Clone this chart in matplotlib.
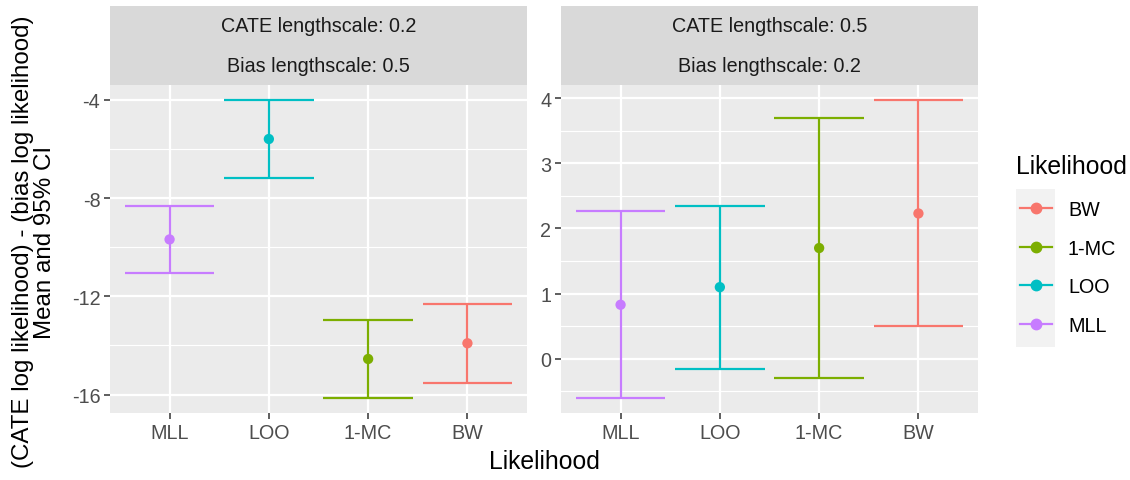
import numpy as np
import matplotlib
matplotlib.use("Agg")
import matplotlib.pyplot as plt
from matplotlib.lines import Line2D
from matplotlib.patches import Rectangle

plt.rcParams['font.family'] = ['Liberation Sans', 'DejaVu Sans']

# data
likelihoods = ["MLL", "LOO", "1-MC", "BW"]
colors = ["#C77CFF", "#00BFC4", "#7CAE00", "#F8766D"]

left_mean = [-9.68, -5.59, -14.55, -13.91]
left_lo = [-11.06, -7.16, -16.15, -15.51]
left_hi = [-8.31, -3.99, -12.95, -12.30]

right_mean = [0.83, 1.10, 1.70, 2.23]
right_lo = [-0.60, -0.15, -0.29, 0.50]
right_hi = [2.27, 2.35, 3.70, 3.97]

cate_ls = ["CATE lengthscale: 0.2", "CATE lengthscale: 0.5"]
bias_ls = ["Bias lengthscale: 0.5", "Bias lengthscale: 0.2"]

W, H = 1130, 481
fig = plt.figure(figsize=(W / 100, H / 100), dpi=100)

def fx(px):
    return px / W

def fy(py):
    return 1 - py / H

panel_top, panel_bot = 86, 414
strip_mid, strip_top = 47, 7
panels = [
    (110, 527, left_mean, left_lo, left_hi, (-16.75, -3.39),
     [-16, -12, -8, -4], [-14, -10, -6]),
    (561, 978, right_mean, right_lo, right_hi, (-0.83, 4.20),
     [0, 1, 2, 3, 4], [-0.5, 0.5, 1.5, 2.5, 3.5]),
]

tick_fs = 14.2
title_fs = 17.8
for i, (x0, x1, mean, lo, hi, ylim, major, minor) in enumerate(panels):
    ax = fig.add_axes([fx(x0), fy(panel_bot), fx(x1 - x0), (panel_bot - panel_top) / H])
    ax.set_facecolor("#EBEBEB")
    for s in ax.spines.values():
        s.set_visible(False)
    xs = np.arange(1, len(likelihoods) + 1)
    for y in minor:
        ax.axhline(y, color="white", lw=0.8, zorder=0)
    for y in major:
        ax.axhline(y, color="white", lw=1.6, zorder=0)
    for x in xs:
        ax.axvline(x, color="white", lw=1.6, zorder=0)
    ax.vlines(xs, lo, hi, colors=colors, lw=1.6, zorder=2)
    ax.hlines(lo, xs - 0.45, xs + 0.45, colors=colors, lw=1.6, zorder=2)
    ax.hlines(hi, xs - 0.45, xs + 0.45, colors=colors, lw=1.6, zorder=2)
    ax.scatter(xs, mean, c=colors, s=55, zorder=3, linewidths=0)
    ax.set_xlim(0.4, 4.6)
    ax.set_ylim(*ylim)
    ax.set_xticks(xs)
    ax.set_xticklabels(likelihoods)
    ax.set_yticks(major)
    ax.set_yticklabels([str(v) for v in major])
    ax.tick_params(axis="both", colors="#333333", labelcolor="#4D4D4D",
                   labelsize=tick_fs, length=4, width=1.1, pad=3)

    # facet strips
    for (ytop, ybot, label) in [(strip_mid, panel_top, bias_ls[i]), (strip_top, strip_mid, cate_ls[i])]:
        sax = fig.add_axes([fx(x0), fy(ybot), fx(x1 - x0), (ybot - ytop) / H])
        sax.set_facecolor("#D9D9D9")
        sax.set_xticks([])
        sax.set_yticks([])
        for s in sax.spines.values():
            s.set_visible(False)
        sax.text(0.5, 0.5, label, ha="center", va="center", fontsize=tick_fs,
                 color="#1A1A1A", transform=sax.transAxes)

# axis titles
fig.text(fx(544), fy(462), "Likelihood", ha="center", va="center", fontsize=title_fs)
fig.text(fx(34), fy(242), "(CATE log likelihood) - (bias log likelihood)\nMean and 95% CI",
         ha="center", va="center", rotation=90, fontsize=17.4, linespacing=1.0,
         multialignment="center")

# legend
fig.patches.append(Rectangle((fx(1016), fy(348)), fx(39), (348 - 190) / H,
                             transform=fig.transFigure, facecolor="#F2F2F2",
                             edgecolor="none", zorder=0))
fig.text(fx(1016), fy(167), "Likelihood", ha="left", va="center", fontsize=title_fs)
handles = [Line2D([0], [0], color=c, lw=1.6, marker="o", markersize=7.5)
           for c in colors[::-1]]
fig.legend(handles, likelihoods[::-1], loc="center left",
           bbox_to_anchor=(fx(1020), fy(268.5)), frameon=False,
           fontsize=tick_fs, handlelength=1.62, handletextpad=0.81,
           labelspacing=1.0, borderpad=0, borderaxespad=0)

fig.savefig("out.png", dpi=100)
